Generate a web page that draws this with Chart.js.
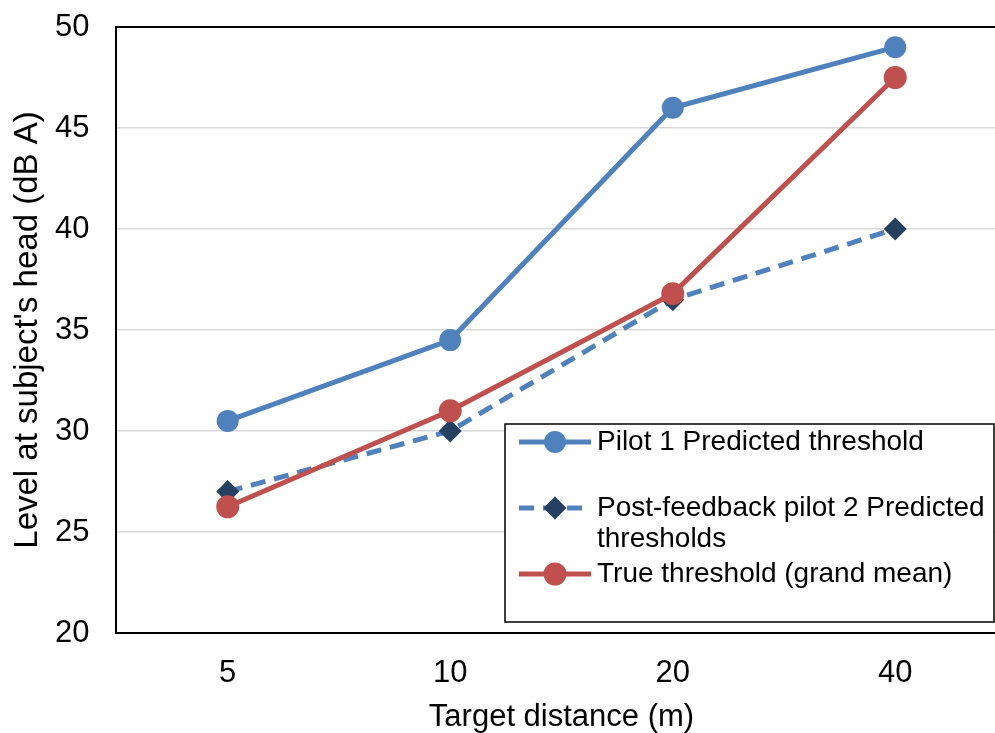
<!DOCTYPE html>
<html>
<head>
<meta charset="utf-8">
<script src="https://cdn.jsdelivr.net/npm/chart.js@4.4.0/dist/chart.umd.min.js"></script>
<style>
  html, body { margin: 0; padding: 0; background: #fff; overflow: hidden; }
  #thresholds { display: block; }
</style>
</head>
<body>
<canvas id="thresholds" width="1018" height="733"></canvas>
<script>
// categories (target distance, m)
const distances = ['5', '10', '20', '40'];
// series values (dB A)
const pilot1 = [30.5, 34.5, 46, 49];
const pilot2 = [27, 30, 36.5, 40];
const trueMean = [26.25, 31, 36.8, 47.5];
const seriesLabels = [
  'Pilot 1 Predicted threshold',
  'Post-feedback pilot 2 Predicted thresholds',
  'True threshold (grand mean)'
];
const yMin = 20, yMax = 50, yStep = 5;

const FONT = '"Liberation Sans", Arial, sans-serif';
const BLUE = '#4f81bd', RED = '#c0504d', NAVY = '#254061';

// excel-style boxed legend sitting inside the plot
const boxLegend = {
  id: 'boxLegend',
  afterDraw(chart, args, opts) {
    const ctx = chart.ctx;
    ctx.save();
    ctx.fillStyle = '#fff';
    ctx.fillRect(opts.left, opts.top, opts.width, opts.height);
    ctx.strokeStyle = '#000';
    ctx.lineWidth = 1.5;
    ctx.strokeRect(opts.left, opts.top, opts.width, opts.height);

    ctx.font = opts.fontSize + 'px ' + FONT;
    ctx.textBaseline = 'middle';
    const textX = opts.left + opts.textOffset;
    const maxW = opts.left + opts.width - textX - 4;

    chart.data.datasets.forEach((ds, i) => {
      const y = opts.top + opts.rows[i];
      const x0 = opts.left + opts.sampleStart, x1 = x0 + opts.sampleLen;
      ctx.save();
      ctx.strokeStyle = ds.borderColor;
      ctx.lineWidth = ds.borderWidth;
      ctx.setLineDash(ds.borderDash || []);
      ctx.beginPath();
      ctx.moveTo(x0, y);
      ctx.lineTo(x1, y);
      ctx.stroke();
      ctx.restore();
      ctx.fillStyle = ds.pointBackgroundColor;
      Chart.helpers.drawPoint(ctx, {
        pointStyle: ds.pointStyle,
        radius: ds.pointRadius,
        borderWidth: 0
      }, (x0 + x1) / 2, y);

      // wrap label text to the box
      const words = ds.label.split(' ');
      const lines = [];
      let cur = '';
      words.forEach(w => {
        const t = cur ? cur + ' ' + w : w;
        if (ctx.measureText(t).width > maxW && cur) { lines.push(cur); cur = w; }
        else cur = t;
      });
      lines.push(cur);
      ctx.fillStyle = '#000';
      lines.forEach((ln, k) => ctx.fillText(ln, textX, y + k * opts.lineGap));
    });
    ctx.restore();
  }
};

const ctx = document.getElementById('thresholds').getContext('2d');
new Chart(ctx, {
  type: 'line',
  data: {
    labels: distances,
    datasets: [{
      label: seriesLabels[0],
      data: pilot1,
      borderColor: BLUE,
      backgroundColor: BLUE,
      pointBackgroundColor: BLUE,
      borderWidth: 5,
      pointStyle: 'circle',
      pointRadius: 11,
      pointBorderWidth: 0,
      order: 2
    }, {
      label: seriesLabels[1],
      data: pilot2,
      borderColor: BLUE,
      backgroundColor: NAVY,
      pointBackgroundColor: NAVY,
      borderWidth: 5,
      borderDash: [15, 9],
      pointStyle: 'rectRot',
      pointRadius: 11.5,
      pointBorderWidth: 0,
      order: 1
    }, {
      label: seriesLabels[2],
      data: trueMean,
      borderColor: RED,
      backgroundColor: RED,
      pointBackgroundColor: RED,
      borderWidth: 5,
      pointStyle: 'circle',
      pointRadius: 11.5,
      pointBorderWidth: 0,
      order: 0
    }]
  },
  options: {
    responsive: false,
    maintainAspectRatio: false,
    animation: false,
    layout: { padding: { top: 27, right: 4, left: 0, bottom: 0 } },
    plugins: {
      legend: { display: false },
      tooltip: { enabled: false },
      boxLegend: {
        left: 505, top: 424, width: 489, height: 198,
        sampleStart: 14, sampleLen: 72, textOffset: 92,
        rows: [18, 84, 150], lineGap: 31, fontSize: 28
      }
    },
    scales: {
      x: {
        offset: true,
        grid: { display: false, drawTicks: false },
        border: { display: true, color: '#000', width: 2 },
        ticks: { color: '#000', padding: 25, font: { family: FONT, size: 31, lineHeight: 1 } },
        title: {
          display: true, text: 'Target distance (m)', color: '#000',
          font: { family: FONT, size: 31, lineHeight: 1 },
          padding: { top: -12, bottom: 0 }
        }
      },
      y: {
        min: yMin, max: yMax,
        grid: {
          drawTicks: false,
          color: c => c.tick.value === yMax ? '#000' : (c.tick.value === yMin ? 'rgba(0,0,0,0)' : '#d9d9d9'),
          lineWidth: c => c.tick.value === yMax ? 2 : 1.5
        },
        border: { display: true, color: '#000', width: 2 },
        ticks: { stepSize: yStep, color: '#000', padding: 27, font: { family: FONT, size: 31, lineHeight: 0 } },
        title: {
          display: true, text: "Level at subject's head (dB A)", color: '#000',
          font: { family: FONT, size: 33, lineHeight: 1 },
          padding: { top: 11, bottom: -16 }
        }
      }
    }
  },
  plugins: [boxLegend]
});
</script>
</body>
</html>
